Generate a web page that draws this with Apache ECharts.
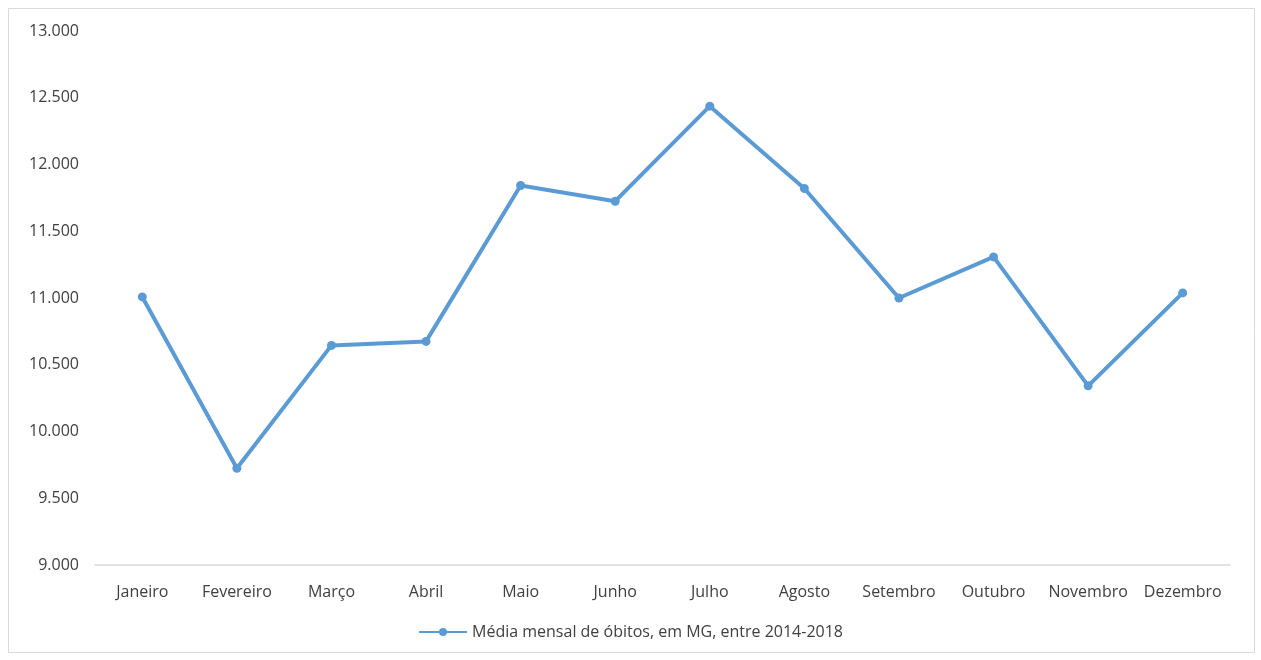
<!DOCTYPE html>
<html>
<head>
    <meta charset="utf-8">
    <title>Média mensal de óbitos</title>
    <script src="https://cdn.jsdelivr.net/npm/echarts@6/dist/echarts.min.js"></script>
    <style>
        html, body { margin: 0; padding: 0; background: #fff; }
    </style>
</head>
<body>
<div id="chart" style="width: 1261px; height: 660px;"></div>
<script>
    var meses = ['Janeiro', 'Fevereiro', 'Março', 'Abril', 'Maio', 'Junho',
        'Julho', 'Agosto', 'Setembro', 'Outubro', 'Novembro', 'Dezembro'];
    var obitos = [11008, 9725, 10645, 10675, 11843, 11725, 12437, 11820, 11000, 11308, 10342, 11038];
    var nomeSerie = 'Média mensal de óbitos, em MG, entre 2014-2018';

    function fmt(v) {
        return String(v).replace(/\B(?=(\d{3})+(?!\d))/g, '.');
    }

    var chart = echarts.init(document.getElementById('chart'));
    var option = {
        animation: false,
        textStyle: { fontFamily: 'Open Sans' },
        graphic: [{
            type: 'rect',
            shape: { x: 8.5, y: 8.5, width: 1246, height: 644 },
            style: { fill: 'none', stroke: '#d9d9d9', lineWidth: 1 },
            silent: true
        }],
        grid: { left: 95, right: 31, top: 31, bottom: 95 },
        legend: {
            bottom: 15,
            left: 'center',
            itemWidth: 48,
            itemHeight: 10,
            itemGap: 4,
            data: [nomeSerie],
            textStyle: { color: '#404040', fontSize: 16 }
        },
        xAxis: {
            type: 'category',
            data: meses,
            boundaryGap: true,
            axisLine: { lineStyle: { color: '#d9d9d9', width: 1.5 } },
            axisTick: { show: false },
            axisLabel: { color: '#404040', fontSize: 16, margin: 19, interval: 0 }
        },
        yAxis: {
            type: 'value',
            min: 9000,
            max: 13000,
            interval: 500,
            axisLine: { show: false },
            axisTick: { show: false },
            splitLine: { show: false },
            axisLabel: { color: '#404040', fontSize: 16, margin: 16, formatter: fmt }
        },
        series: [{
            name: nomeSerie,
            type: 'line',
            data: obitos,
            symbol: 'circle',
            symbolSize: 9,
            lineStyle: { color: '#5b9bd5', width: 4 },
            itemStyle: { color: '#5b9bd5' }
        }]
    };
    chart.setOption(option);
</script>
</body>
</html>
